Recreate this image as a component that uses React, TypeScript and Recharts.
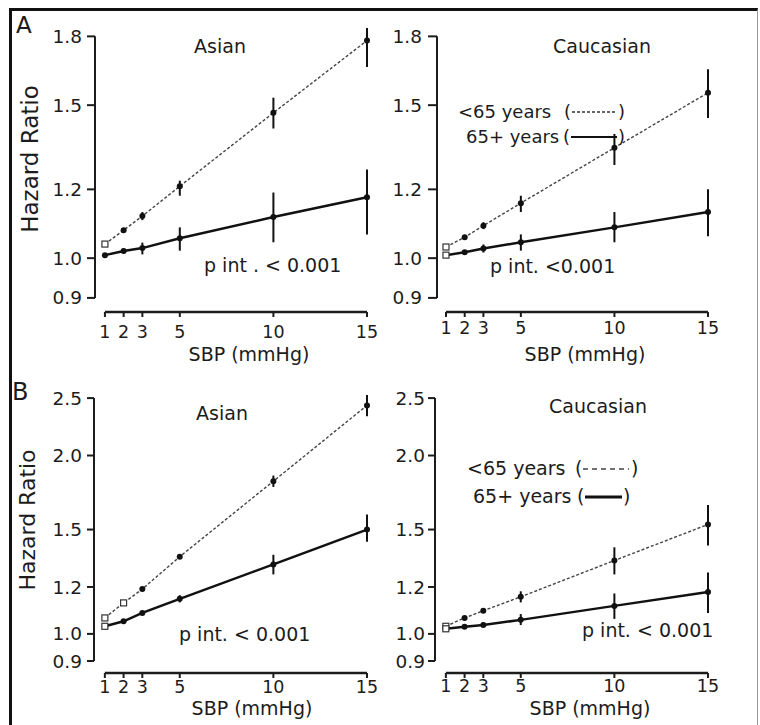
import React from 'react';
import { LineChart, Line, XAxis, YAxis, ErrorBar, ReferenceLine } from 'recharts';

const FONT = '"DejaVu Sans", Verdana, sans-serif';
const INK = '#1c1c1c';

// SBP increments on the x axis
const sbpSteps = [1, 2, 3, 5, 10, 15];

// A, Asian
const aAsianYoung = [1.038, 1.077, 1.118, 1.21, 1.47, 1.78];
const aAsianYoungLo = [1.038, 1.072, 1.106, 1.18, 1.41, 1.66];
const aAsianYoungHi = [1.038, 1.082, 1.13, 1.228, 1.53, 1.84];
const aAsianOld = [1.008, 1.019, 1.027, 1.054, 1.115, 1.175];
const aAsianOldLo = [1.008, 1.012, 1.01, 1.02, 1.043, 1.065];
const aAsianOldHi = [1.008, 1.026, 1.042, 1.085, 1.19, 1.265];

// A, Caucasian
const aCaucYoung = [1.03, 1.057, 1.09, 1.157, 1.34, 1.55];
const aCaucYoungLo = [1.03, 1.052, 1.08, 1.13, 1.28, 1.45];
const aCaucYoungHi = [1.03, 1.062, 1.1, 1.18, 1.39, 1.65];
const aCaucOld = [1.008, 1.016, 1.026, 1.043, 1.085, 1.13];
const aCaucOldLo = [1.008, 1.012, 1.015, 1.02, 1.043, 1.06];
const aCaucOldHi = [1.008, 1.02, 1.037, 1.065, 1.13, 1.2];

// B, Asian
const bAsianYoung = [1.064, 1.128, 1.19, 1.35, 1.81, 2.43];
const bAsianYoungLo = [1.064, 1.128, 1.18, 1.34, 1.77, 2.33];
const bAsianYoungHi = [1.064, 1.128, 1.2, 1.36, 1.85, 2.53];
const bAsianOld = [1.03, 1.05, 1.085, 1.146, 1.31, 1.5];
const bAsianOldLo = [1.03, 1.045, 1.078, 1.13, 1.26, 1.43];
const bAsianOldHi = [1.03, 1.055, 1.092, 1.162, 1.36, 1.59];

// B, Caucasian
const bCaucYoung = [1.03, 1.064, 1.094, 1.155, 1.33, 1.53];
const bCaucYoungLo = [1.03, 1.06, 1.085, 1.13, 1.26, 1.41];
const bCaucYoungHi = [1.03, 1.068, 1.1, 1.18, 1.4, 1.65];
const bCaucOld = [1.02, 1.028, 1.035, 1.056, 1.115, 1.177];
const bCaucOldLo = [1.02, 1.025, 1.028, 1.035, 1.06, 1.085];
const bCaucOldHi = [1.02, 1.031, 1.045, 1.08, 1.17, 1.27];

const ticksA = [0.9, 1.0, 1.2, 1.5, 1.8];
const ticksB = [0.9, 1.0, 1.2, 1.5, 2.0, 2.5];

function buildRows(
  young: number[], youngLo: number[], youngHi: number[],
  old: number[], oldLo: number[], oldHi: number[],
) {
  return sbpSteps.map((sbp, i) => ({
    sbp,
    young: young[i],
    youngErr: [young[i] - youngLo[i], youngHi[i] - young[i]],
    old: old[i],
    oldErr: [old[i] - oldLo[i], oldHi[i] - old[i]],
  }));
}

const makeDot = (openCount: number, name: string) => (props: any) => {
  const { cx, cy, index } = props;
  if (cx == null || cy == null) return <g key={`${name}-${index}`} />;
  if (index < openCount) {
    return (
      <rect key={`${name}-${index}`} x={cx - 3} y={cy - 3} width={6} height={6}
        fill="#fff" stroke="#333" strokeWidth={1.2} />
    );
  }
  return <circle key={`${name}-${index}`} cx={cx} cy={cy} r={3} fill="#111" />;
};

type PanelProps = {
  rows: any[];
  left: number; top: number; width: number; height: number;
  xMin: number;
  yDomain: [number, number];
  yTicks: number[];
  yTickSize: number; yTickMargin: number;
  xTickMargin: number;
  openYoung: number; openOld: number;
};

function Panel(p: PanelProps) {
  const w = p.width + 80;
  const h = p.height + 60;
  const top = p.yTicks[p.yTicks.length - 1];
  return (
    <div style={{ position: 'absolute', left: p.left - 60, top: p.top - 20, width: w, height: h }}>
      <LineChart width={w} height={h} data={p.rows} margin={{ top: 20, right: 20, bottom: 0, left: 20 }}>
        <XAxis
          dataKey="sbp"
          type="number"
          domain={[p.xMin, 15]}
          ticks={sbpSteps}
          interval={0}
          axisLine={false}
          tickLine={{ stroke: INK, strokeWidth: 2 }}
          tickSize={5}
          tickMargin={p.xTickMargin}
          height={40}
          tick={{ fill: INK, fontSize: 17.5, fontFamily: FONT }}
        />
        <YAxis
          type="number"
          scale="log"
          domain={p.yDomain}
          ticks={p.yTicks}
          interval={0}
          width={40}
          axisLine={false}
          tickLine={{ stroke: INK, strokeWidth: 2 }}
          tickSize={p.yTickSize}
          tickMargin={p.yTickMargin}
          tickFormatter={(v: number) => v.toFixed(1)}
          tick={{ fill: INK, fontSize: 18.5, fontFamily: FONT }}
        />
        <ReferenceLine
          segment={[{ x: p.xMin, y: p.yTicks[0] }, { x: p.xMin, y: top }]}
          stroke={INK}
          strokeWidth={2}
        />
        <ReferenceLine
          segment={[{ x: 1, y: p.yDomain[0] }, { x: 15, y: p.yDomain[0] }]}
          stroke={INK}
          strokeWidth={2.5}
        />
        <Line
          dataKey="young"
          type="linear"
          stroke="#444"
          strokeWidth={1.4}
          strokeDasharray="3 2"
          dot={makeDot(p.openYoung, 'y')}
          activeDot={false}
          isAnimationActive={false}
        >
          <ErrorBar dataKey="youngErr" direction="y" width={0} stroke="#111" strokeWidth={2} isAnimationActive={false} />
        </Line>
        <Line
          dataKey="old"
          type="linear"
          stroke="#111"
          strokeWidth={2.5}
          dot={makeDot(p.openOld, 'o')}
          activeDot={false}
          isAnimationActive={false}
        >
          <ErrorBar dataKey="oldErr" direction="y" width={0} stroke="#111" strokeWidth={2} isAnimationActive={false} />
        </Line>
      </LineChart>
    </div>
  );
}

export default function App() {
  const rowsAAsian = buildRows(aAsianYoung, aAsianYoungLo, aAsianYoungHi, aAsianOld, aAsianOldLo, aAsianOldHi);
  const rowsACauc = buildRows(aCaucYoung, aCaucYoungLo, aCaucYoungHi, aCaucOld, aCaucOldLo, aCaucOldHi);
  const rowsBAsian = buildRows(bAsianYoung, bAsianYoungLo, bAsianYoungHi, bAsianOld, bAsianOldLo, bAsianOldHi);
  const rowsBCauc = buildRows(bCaucYoung, bCaucYoungLo, bCaucYoungHi, bCaucOld, bCaucOldLo, bCaucOldHi);

  return (
    <div style={{ position: 'absolute', left: 0, top: 0, width: 760, height: 725, background: '#fff', fontFamily: FONT }}>
      <div style={{
        position: 'absolute', left: 9, top: 8, width: 745, height: 720,
        borderTop: '3px solid #111', borderLeft: '3px solid #111', borderRight: '1px solid #999',
      }} />

      <Panel rows={rowsAAsian} left={95} top={24} width={272} height={288} xMin={0.47}
        yDomain={[0.867, 1.86]} yTicks={ticksA} yTickSize={8} yTickMargin={5}
        xTickMargin={9} openYoung={1} openOld={0} />
      <Panel rows={rowsACauc} left={437} top={24} width={271} height={288} xMin={0.52}
        yDomain={[0.867, 1.86]} yTicks={ticksA} yTickSize={9} yTickMargin={6}
        xTickMargin={5} openYoung={1} openOld={1} />
      <Panel rows={rowsBAsian} left={94} top={388} width={273} height={285} xMin={0.42}
        yDomain={[0.859, 2.6]} yTicks={ticksB} yTickSize={7} yTickMargin={5}
        xTickMargin={3} openYoung={2} openOld={1} />
      <Panel rows={rowsBCauc} left={435} top={388} width={273} height={285} xMin={0.42}
        yDomain={[0.859, 2.6]} yTicks={ticksB} yTickSize={7} yTickMargin={3}
        xTickMargin={2} openYoung={1} openOld={1} />

      <svg width={760} height={725} style={{ position: 'absolute', left: 0, top: 0, pointerEvents: 'none' }}
        fontFamily={FONT} fill={INK}>
        <text x={16} y={33} fontSize={23}>A</text>
        <text x={12} y={400} fontSize={24}>B</text>

        <text x={38} y={159} fontSize={23} textAnchor="middle" transform="rotate(-90 38 159)">Hazard Ratio</text>
        <text x={35} y={520} fontSize={22} textAnchor="middle" transform="rotate(-90 35 520)">Hazard Ratio</text>

        <text x={220} y={53} fontSize={19} textAnchor="middle">Asian</text>
        <text x={602} y={53} fontSize={19} textAnchor="middle">Caucasian</text>
        <text x={222} y={420} fontSize={19} textAnchor="middle">Asian</text>
        <text x={598} y={413} fontSize={19} textAnchor="middle">Caucasian</text>

        <text x={204} y={272} fontSize={19}>p int . &lt; 0.001</text>
        <text x={490} y={273} fontSize={19}>p int. &lt;0.001</text>
        <text x={179} y={641} fontSize={19}>p int. &lt; 0.001</text>
        <text x={582} y={637} fontSize={19}>p int. &lt; 0.001</text>

        <text x={249} y={361} fontSize={19} textAnchor="middle">SBP (mmHg)</text>
        <text x={585} y={361} fontSize={19} textAnchor="middle">SBP (mmHg)</text>
        <text x={252} y={715} fontSize={19} textAnchor="middle">SBP (mmHg)</text>
        <text x={590} y={715} fontSize={19} textAnchor="middle">SBP (mmHg)</text>

        {/* legend, panel A */}
        <text x={458} y={118} fontSize={18}>&lt;65 years</text>
        <text x={564} y={118} fontSize={18}>(</text>
        <line x1={572} y1={112} x2={617} y2={112} stroke="#333" strokeWidth={1.6} strokeDasharray="3 2" />
        <text x={618} y={118} fontSize={18}>)</text>
        <text x={466} y={143} fontSize={18}>65+ years</text>
        <text x={563} y={143} fontSize={18}>(</text>
        <line x1={571} y1={137} x2={617} y2={137} stroke="#111" strokeWidth={1.8} />
        <text x={618} y={143} fontSize={18}>)</text>

        {/* legend, panel B */}
        <text x={467} y={475} fontSize={19}>&lt;65 years</text>
        <text x={575} y={475} fontSize={19}>(</text>
        <line x1={583} y1={469} x2={629} y2={469} stroke="#444" strokeWidth={1.4} strokeDasharray="5 4" />
        <text x={631} y={475} fontSize={19}>)</text>
        <text x={473} y={503} fontSize={19}>65+ years</text>
        <text x={577} y={503} fontSize={19}>(</text>
        <line x1={585} y1={497} x2={622} y2={497} stroke="#111" strokeWidth={2.8} />
        <text x={623} y={503} fontSize={19}>)</text>
      </svg>
    </div>
  );
}
